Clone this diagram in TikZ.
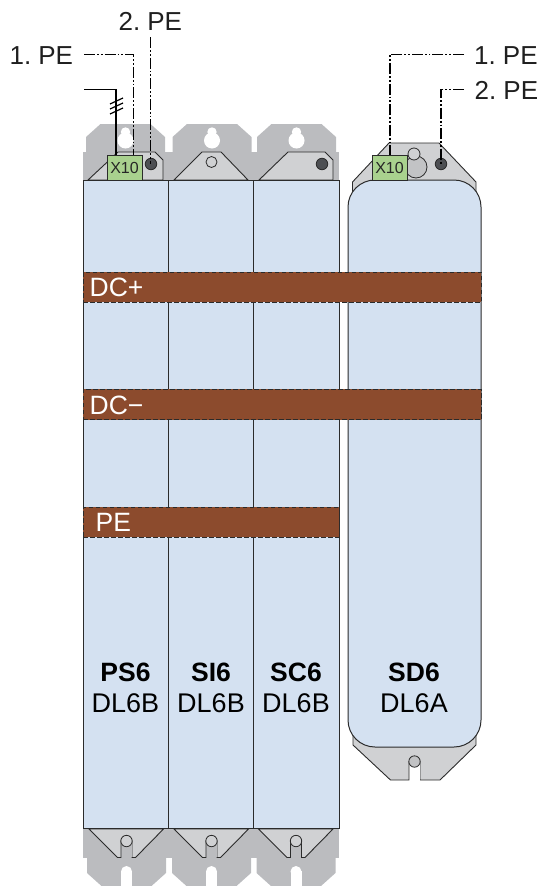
\documentclass[tikz,border=0pt]{standalone}
\usepackage{fontspec}
\setmainfont{Liberation Sans}
\definecolor{modblue}{HTML}{D4E1F1}
\definecolor{platedark}{HTML}{BBBCBF}
\definecolor{platelight}{HTML}{D0D1D3}
\definecolor{busbrown}{HTML}{8C4B2D}
\definecolor{x10green}{HTML}{A9D18E}
\definecolor{inkdark}{HTML}{2B2B2B}
\definecolor{termdark}{HTML}{4D4F53}
\tikzset{
 x=1pt,y=-1pt,
 module/.style={draw=inkdark,line width=1pt,fill=modblue,minimum height=647.5pt,inner sep=0pt,outer sep=0pt},
 plateline/.style={draw=inkdark,line width=0.9pt,fill=platelight,line join=miter},
 bar/.style={fill=busbrown,draw=inkdark,line width=1pt,dash pattern=on 4.5pt off 2.5pt,inner sep=0pt,outer sep=0pt,minimum height=30pt},
 pewire/.style={draw=black,line width=1.6pt,dash pattern=on 11pt off 2pt on 1.8pt off 2pt on 1.8pt off 2pt},
 solidwire/.style={draw=black,line width=1.4pt},
 biglabel/.style={inner sep=0pt,anchor=base,text=black!88,font=\fontsize{26}{28}\selectfont},
 barlabel/.style={inner sep=0pt,anchor=base west,text=white,font=\fontsize{26.5}{28}\selectfont},
 typelabel/.style={inner sep=0pt,anchor=base,text=black,align=center,font=\fontsize{27}{30}\selectfont},
 namelabel/.style={inner sep=0pt,anchor=base,text=black,align=center,font=\fontsize{26.5}{30}\bfseries\selectfont},
 x10box/.style={draw=inkdark,line width=0.8pt,fill=x10green,minimum width=35pt,minimum height=25pt,inner sep=0pt,outer sep=0pt,font=\fontsize{16}{18}\selectfont,text=black!85},
 terminal/.style={circle,draw=inkdark,line width=0.8pt,fill=termdark,minimum size=11.5pt,inner sep=0pt,outer sep=0pt},
 hole/.style={circle,draw=inkdark,line width=0.8pt,fill=platelight,inner sep=0pt,outer sep=0pt},
}
\begin{document}
\begin{tikzpicture}
\useasboundingbox (0,0) rectangle (539,886);
\clip (0,0) rectangle (539,886);
% grey mounting plates, top and bottom
\fill[platedark] (83,152) rectangle (339,180);
\fill[platedark] (83,828) rectangle (339,858);
\foreach \c in {125.5,212,296.5}{
  \fill[platedark] (\c-39.5,152) -- (\c-39.5,137) -- (\c-25,124) -- (\c+25,124) -- (\c+39.5,137) -- (\c+39.5,152) -- cycle;
  \fill[white] (\c,140.5) circle (8pt);
  \fill[white] (\c,132) circle (4.7pt);
}
\foreach \c in {126.5,211.5,296}{
  \fill[platedark] (\c-39.5,858) -- (\c-39.5,873) -- (\c-25,886) -- (\c+25,886) -- (\c+39.5,873) -- (\c+39.5,858) -- cycle;
  \fill[white] (\c-5.5,886) rectangle (\c+5.5,871);
  \fill[white] (\c,871.5) circle (5.5pt);
  \path[plateline] (\c-37.5,829) -- (\c-9,857.5) -- (\c-5.5,857.5) -- (\c-5.5,841) -- (\c+5.5,841) -- (\c+5.5,857.5) -- (\c+9,857.5) -- (\c+37,829) -- cycle;
  \fill[platedark] (\c-5,842) rectangle (\c+5,857.2);
  \path[hole] (\c,841) circle (5.7pt);
}
% light plates on the upper edge
\path[plateline] (88,180) -- (118,152) -- (155,152) -- (163,160) -- (163,180) -- cycle;
\path[plateline] (174,180) -- (202,152) -- (221,152) -- (248,180) -- cycle;
\path[plateline] (259,180) -- (288,152) -- (325,152) -- (333,160) -- (333,180) -- cycle;
\path[plateline] (352.5,192) -- (352.5,182) -- (389,143) -- (439,143) -- (476,182) -- (476,192) -- cycle;
\path[plateline] (353,730) -- (353,745) -- (390.5,780) -- (409,780) -- (409,762) -- (420,762) -- (420,780) -- (440,780) -- (476,745) -- (476,730) -- cycle;
\fill[white] (409.5,762) rectangle (419.5,781);
\path[hole,fill=platedark!90] (414.5,761.5) circle (5.7pt);
% modules
\node[module,minimum width=85.5pt] (ps6) at (125.75,504.25) {};
\node[module,minimum width=85pt] (si6) at (211,504.25) {};
\node[module,minimum width=85.5pt] (sc6) at (296.25,504.25) {};
\node[module,minimum width=133pt,minimum height=567pt,rounded corners=27pt] (sd6) at (414.5,463.5) {};
% details on the top plates
\node[terminal] (t1) at (151,164) {};
\node[hole,minimum size=11pt] (h2) at (211.5,162) {};
\node[terminal] (t3) at (322,164) {};
\path[hole,fill=platedark!90] (416,167) circle (11pt);
\path[hole] (414,154) circle (6pt);
\node[terminal] (t4) at (441,164) {};
\node[x10box] (xa) at (124.5,167.5) {X10};
\node[x10box] (xb) at (389.5,167.5) {X10};
% bus bars
\node[bar,minimum width=398pt] (dcp) at (282,287) {};
\node[bar,minimum width=398pt,minimum height=30.5pt] (dcm) at (282,404.5) {};
\node[bar,minimum width=256pt] (pebar) at (211,522) {};
\node[barlabel] (dcpl) at (89.5,296.7) {DC+};
\node[barlabel] (dcml) at (89.5,414) {DC−};
\node[barlabel] (pel) at (95.5,531.5) {PE};
% module labels
\node[namelabel] (l1) at (125.5,681.5) {PS6};
\node[typelabel] (l1b) at (125.5,712.5) {DL6B};
\node[namelabel] (l2) at (211,681.5) {SI6};
\node[typelabel] (l2b) at (211,712.5) {DL6B};
\node[namelabel] (l3) at (296,681.5) {SC6};
\node[typelabel] (l3b) at (296,712.5) {DL6B};
\node[namelabel] (l4) at (414,681.5) {SD6};
\node[typelabel] (l4b) at (414,712.5) {DL6A};
% PE labels
\node[biglabel,anchor=base west] (pa1) at (9.5,64.5) {1.\kern0.27em PE};
\node[biglabel,anchor=base west] (pa2) at (118.5,30) {2.\kern0.27em PE};
\node[biglabel,anchor=base west] (pb1) at (474,64.5) {1.\kern0.27em PE};
\node[biglabel,anchor=base west] (pb2) at (474.5,99) {2.\kern0.27em PE};
% connectors
\coordinate (a1s) at (84,54.5);
\coordinate (a1e) at (133.5,155);
\coordinate (a2s) at (150.5,37);
\coordinate (b1s) at (464,54.5);
\coordinate (b1e) at (390,155);
\coordinate (b2s) at (464,89.5);
\coordinate (ms) at (84,89.5);
\coordinate (me) at (116,155);
\draw[pewire] (a1s) -| (a1e);
\draw[pewire] (a2s) -- (a2s |- t1.center);
\draw[pewire] (b1s) -| (b1e);
\draw[pewire] (b2s) -| (t4.center);
\draw[solidwire] (ms) -| (me);
\foreach \yy in {101,106,111}
  \draw[black,line width=1.2pt] (110,\yy+3) -- (123,\yy-3);
\end{tikzpicture}
\end{document}
